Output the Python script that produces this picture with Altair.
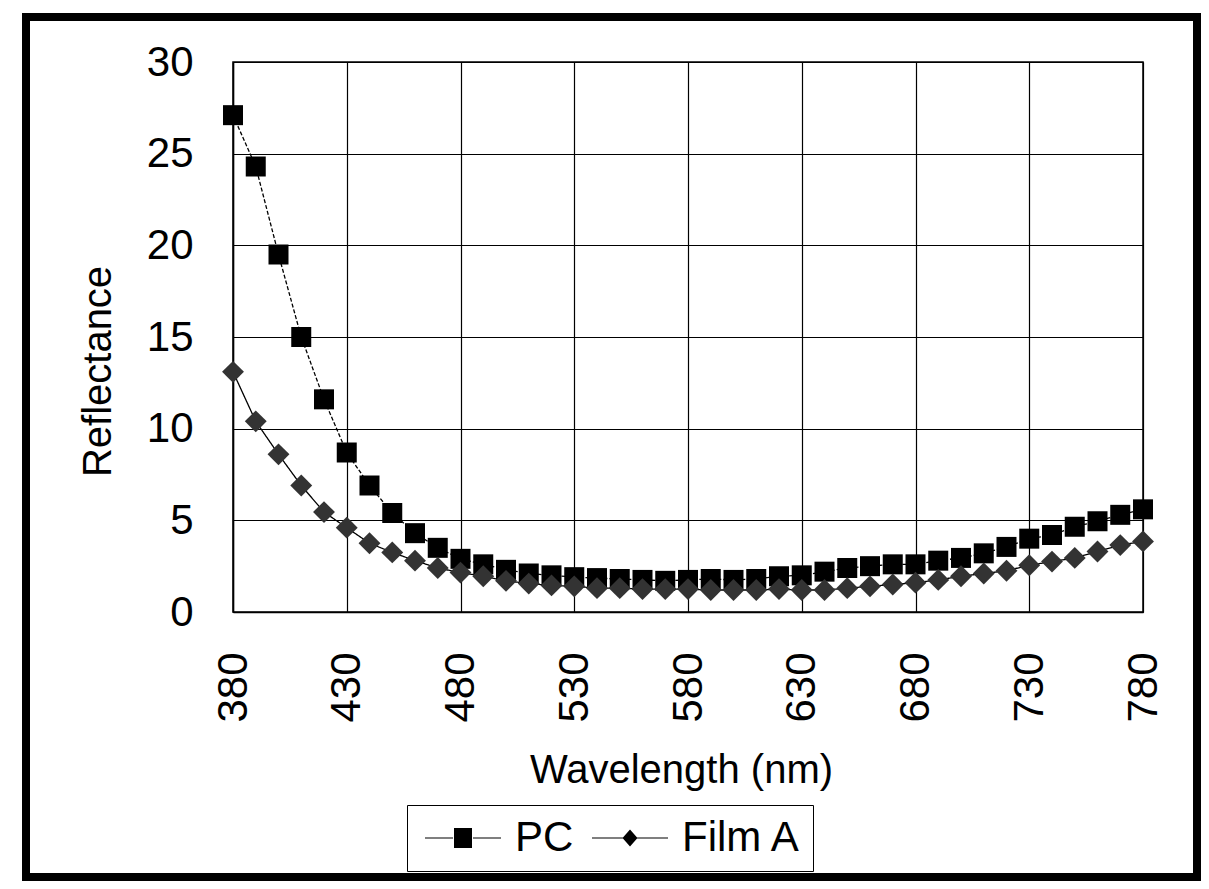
import altair as alt
import pandas as pd

wavelengths = list(range(380, 781, 10))
pc = [27.1, 24.3, 19.5, 15.0, 11.6, 8.7, 6.9, 5.4, 4.3, 3.5,
      2.9, 2.6, 2.3, 2.1, 2.0, 1.9, 1.85, 1.8, 1.75, 1.7,
      1.75, 1.8, 1.75, 1.8, 1.95, 2.0, 2.2, 2.4, 2.5, 2.6,
      2.6, 2.8, 2.95, 3.2, 3.55, 4.0, 4.2, 4.65, 4.95, 5.3, 5.6]
film_a = [13.1, 10.4, 8.6, 6.9, 5.45, 4.6, 3.75, 3.25, 2.8, 2.4,
          2.15, 1.95, 1.7, 1.55, 1.45, 1.4, 1.3, 1.3, 1.25, 1.25,
          1.25, 1.2, 1.2, 1.2, 1.25, 1.2, 1.2, 1.3, 1.4, 1.5,
          1.6, 1.75, 1.95, 2.1, 2.25, 2.55, 2.75, 2.95, 3.3, 3.65, 3.85]
series_names = ["PC", "Film A"]
x_ticks = [380, 430, 480, 530, 580, 630, 680, 730, 780]
y_ticks = [0, 5, 10, 15, 20, 25, 30]

df = pd.DataFrame({
    "wavelength": wavelengths * 2,
    "reflectance": pc + film_a,
    "series": ["PC"] * len(pc) + ["Film A"] * len(film_a),
})

FONT = "Liberation Sans"

x_enc = alt.X(
    "wavelength:Q",
    scale=alt.Scale(domain=[380, 780], nice=False, zero=False),
    axis=alt.Axis(values=x_ticks, title="Wavelength (nm)", labelAngle=270,
                  labelFontSize=42, labelPadding=40, titleFontSize=40,
                  titleX=448, titleY=170, titleBaseline="alphabetic"),
)
y_enc = alt.Y(
    "reflectance:Q",
    scale=alt.Scale(domain=[0, 30], nice=False),
    axis=alt.Axis(values=y_ticks, title="Reflectance", labelFontSize=42,
                  labelPadding=40, titleFontSize=40, titleX=-135, titleY=309,
                  titleBaseline="middle"),
)

base = alt.Chart(df)

lines = base.mark_line(color="black", strokeWidth=1.3).encode(
    x=x_enc, y=y_enc, detail="series:N",
    strokeDash=alt.StrokeDash("series:N", scale=alt.Scale(domain=series_names, range=[[4, 2], [1, 0]]), legend=None),
)

points = base.mark_point(filled=True, opacity=1).encode(
    x=x_enc, y=y_enc,
    shape=alt.Shape("series:N", scale=alt.Scale(domain=series_names, range=["square", "diamond"]), legend=None),
    color=alt.Color("series:N", scale=alt.Scale(domain=series_names, range=["black", "#333333"]), legend=None),
    size=alt.Size("series:N", scale=alt.Scale(domain=series_names, range=[400, 480]), legend=None),
)

# legend glyphs: thin filled bars either side of the marker (so no stroke is needed)
pc_path = ("M-3.8,-0.06H-1V0.06H-3.8Z"
           "M1,-0.06H3.8V0.06H1Z"
           "M-0.9,-1H0.9V1H-0.9Z")
fa_path = ("M-3.8,-0.06H-0.7V0.06H-3.8Z"
           "M0.7,-0.06H3.8V0.06H0.7Z"
           "M-0.75,0L0,-0.85L0.75,0L0,0.85Z")

legend_layer = base.transform_filter("datum.wavelength < 0").transform_calculate(
    key="datum.series"
).mark_point(filled=True, color="black", opacity=1, size=400).encode(
    x=x_enc, y=y_enc,
    shape=alt.Shape("key:N", scale=alt.Scale(domain=series_names, range=[pc_path, fa_path]),
                    legend=alt.Legend(title=None, orient="none", legendX=174, legendY=743,
                                      direction="horizontal", strokeColor="black",
                                      padding=12, symbolOffset=23, labelOffset=31,
                                      columnPadding=12, labelFontSize=42, labelFont=FONT,
                                      labelColor="black", symbolSize=400,
                                      symbolFillColor="black", symbolOpacity=1)),
)

frame = alt.Chart(pd.DataFrame({"f": [1]})).mark_rect(
    fillOpacity=0, stroke="black", strokeWidth=8
).encode(x=alt.value(-207), x2=alt.value(964), y=alt.value(-45), y2=alt.value(815))

chart = alt.layer(lines, points, legend_layer, frame).resolve_scale(
    shape="independent"
).properties(
    width=910, height=550,
    autosize=alt.AutoSizeParams(type="none"),
    padding={"left": 225, "top": 54, "right": 58, "bottom": 269},
    background="white",
).configure_view(
    stroke="black", strokeWidth=1.5
).configure_axis(
    labelFont=FONT, titleFont=FONT, labelColor="black", titleColor="black",
    titleFontWeight="normal", ticks=False, domainColor="black", domainWidth=1.5,
    gridColor="black", gridWidth=1.2, gridOpacity=1,
)

chart.save("out.html", embed_options={"renderer": "svg", "actions": False})
